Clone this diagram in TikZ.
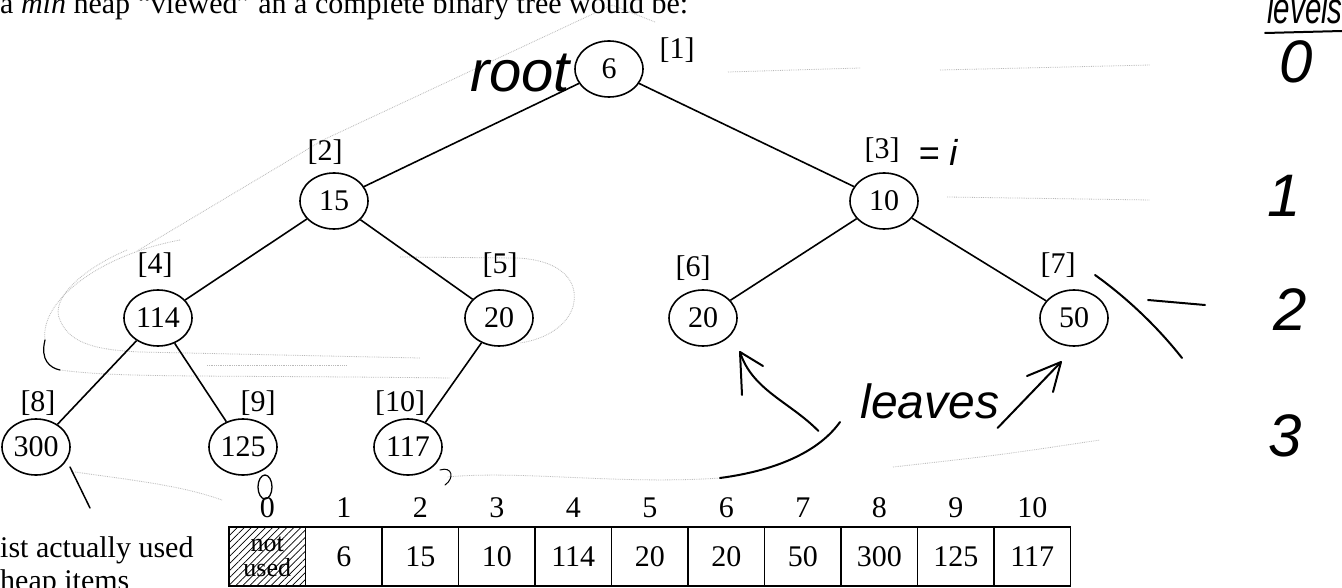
\documentclass[tikz,border=0pt]{standalone}
\usepackage{fontspec}
\setmainfont{Liberation Serif}
\newfontfamily\hand{Liberation Sans}
\usetikzlibrary{shapes.geometric,patterns.meta}
\begin{document}
\begin{tikzpicture}[x=1pt,y=-1pt,
  hnode/.style={ellipse,draw,line width=1.6pt,minimum width=68pt,minimum height=56pt,inner sep=0pt,font=\fontsize{30}{30}\selectfont},
  lbl/.style={font=\fontsize{30}{30}\selectfont,inner sep=0pt},
  link/.style={line width=1.6pt},
  cellbox/.style={draw,line width=1.6pt,minimum width=76.5pt,minimum height=59pt,inner sep=0pt,font=\fontsize{30}{30}\selectfont},
  hw/.style={font=\hand\itshape\fontsize{#1}{#1}\selectfont,inner sep=0pt},
  ink/.style={line width=2pt,line cap=round,line join=round},
  pencil/.style={gray!55,line width=0.8pt,densely dotted}
]
\useasboundingbox (0,0) rectangle (1342,588);
\fill[white] (0,0) rectangle (1342,588);

% pencil scribbles (faint)
\draw[pencil] (655,22) -- (612,5) -- (323,140) -- (137,251);
\draw[pencil] (728,72) -- (860,68);
\draw[pencil] (940,70) -- (1150,65);
\draw[pencil] (947,197) -- (1150,200);
\draw[pencil] (180,240) .. controls (100,255) and (40,300) .. (45,340);
\draw[pencil] (127,250) .. controls (80,270) and (50,300) .. (60,320) .. controls (70,345) and (100,350) .. (140,352) -- (420,358);
\draw[pencil] (400,257) -- (517,258) .. controls (560,260) and (580,280) .. (573,307) .. controls (565,330) and (540,340) .. (520,343);
\draw[pencil] (60,370) .. controls (120,378) and (200,375) .. (450,378);
\draw[pencil] (207,365) -- (347,365);
\draw[pencil] (893,467) .. controls (1000,455) .. (1100,440);
\draw[pencil] (75,472) .. controls (130,480) and (180,485) .. (222,500);
\draw[pencil] (720,478) .. controls (620,485) and (520,470) .. (447,477);
\draw[ink,line width=1.2pt] (45,340) .. controls (40,360) and (50,368) .. (60,370);

% title line (cut at top)
\node[lbl,anchor=base west] (title) at (0,14) {a \textit{min} heap ``viewed'' an a complete binary tree would be:};

% tree
\node[hnode] (n1) at (609,69) {6};
\node[hnode] (n2) at (334,201) {15};
\node[hnode] (n3) at (884,201) {10};
\node[hnode] (n4) at (158,318) {114};
\node[hnode] (n5) at (499,318) {20};
\node[hnode] (n6) at (703,318) {20};
\node[hnode] (n7) at (1074,318) {50};
\node[hnode] (n8) at (36,447) {300};
\node[hnode] (n9) at (243,447) {125};
\node[hnode] (n10) at (408,447) {117};
\draw[link] (n1) -- (n2);
\draw[link] (n1) -- (n3);
\draw[link] (n2) -- (n4);
\draw[link] (n2) -- (n5);
\draw[link] (n3) -- (n6);
\draw[link] (n3) -- (n7);
\draw[link] (n4) -- (n8);
\draw[link] (n4) -- (n9);
\draw[link] (n5) -- (n10);

\node[lbl] (l1) at (677,50) {[1]};
\node[lbl] (l2) at (325,152) {[2]};
\node[lbl] (l3) at (882,150) {[3]};
\node[lbl] (l4) at (155,265) {[4]};
\node[lbl] (l5) at (500,265) {[5]};
\node[lbl] (l6) at (693,268) {[6]};
\node[lbl] (l7) at (1058,265) {[7]};
\node[lbl] (l8) at (38,403) {[8]};
\node[lbl] (l9) at (258,403) {[9]};
\node[lbl] (l10) at (400,403) {[10]};

% array
\node[cellbox,pattern={Lines[angle=45,distance=5pt,line width=0.7pt]},align=center,font=\fontsize{26}{25}\selectfont] (c0) at (267.25,556.5) {not\\used};
\foreach \v [count=\i] in {6,15,10,114,20,20,50,300,125,117}{
  \node[cellbox] (c\i) at (267.25+76.5*\i,556.5) {\v};
}
\foreach \i in {0,...,10}{
  \node[lbl] (ix\i) at (267.25+76.5*\i,508) {\i};
}
\node[lbl,anchor=base west] (note1) at (0,557) {ist actually used};
\node[lbl,anchor=base west] (note2) at (0,590) {heap items};

% handwriting
\node[hw=58,anchor=base] (root) at (520,92) {root};
\node[hw=36] (eqi) at (938,152) {= i};
\node[hw=48,anchor=base] (leaves) at (930,418) {leaves};
\node[hw=44,anchor=base] (levels) at (1305,24) {\scalebox{0.67}[1]{levels}};
\draw[ink] (1265,33) -- (1342,31);
\node[hw=60] (lv0) at (1296,62) {0};
\node[hw=60] (lv1) at (1284,196) {1};
\node[hw=60] (lv2) at (1290,310) {2};
\node[hw=60] (lv3) at (1285,436) {3};

\coordinate (tipL) at (740,352);
\coordinate (tipR) at (1061,362);
\draw[ink] ([xshift=-42pt,yshift=-13pt]leaves.base west) .. controls (790,402) and (752,390) .. (tipL);
\draw[ink] (763,366) -- (tipL) -- (742,395);
\draw[ink] ([xshift=-2pt,yshift=-10pt]leaves.base east) -- (tipR);
\draw[ink] (1027,376) -- (tipR) -- (1053,392);
\draw[ink] (840,422) .. controls (820,450) and (780,470) .. (720,478);
\draw[ink,line width=1.5pt] (70,467) -- (90,508);
\draw[ink,line width=1.3pt] (265,487) ellipse (7 and 12);
\draw[ink,line width=1pt] (440,470) .. controls (452,466) and (455,478) .. (445,485);
\draw[ink] (1095,275) .. controls (1130,300) and (1160,330) .. (1182,358);
\draw[ink] (1148,300) -- (1205,305);
\end{tikzpicture}
\end{document}
